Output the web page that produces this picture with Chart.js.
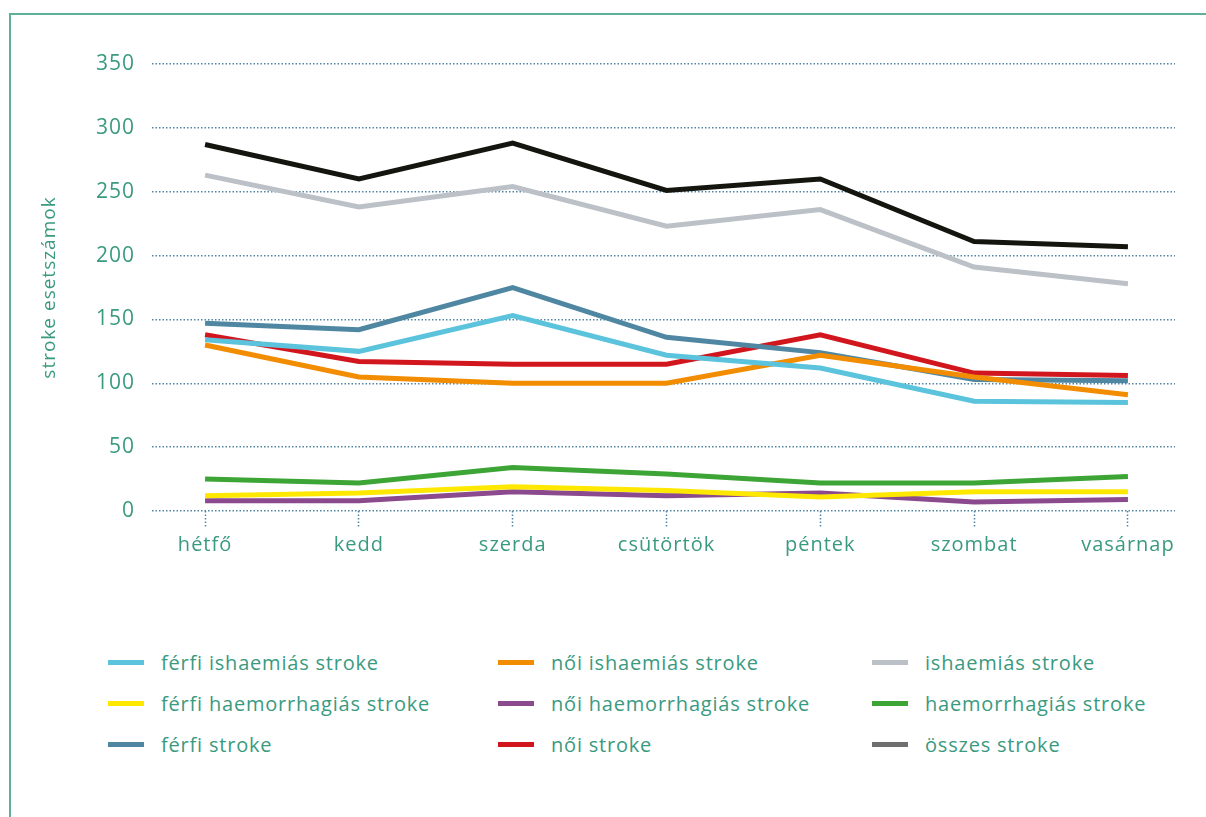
<!DOCTYPE html>
<html>
<head>
<meta charset="utf-8">
<script src="https://cdn.jsdelivr.net/npm/chart.js@4/dist/chart.umd.min.js"></script>
<style>
	html, body { margin: 0; padding: 0; background: #fff; }
	#frame {
		position: absolute; left: 9px; top: 13px; width: 1197px; height: 804px;
		border-left: 2px solid #5fb09a; border-top: 2px solid #5fb09a;
	}
	#wrap { position: absolute; left: 0; top: 0; width: 1206px; height: 560px; }
	#legend {
		position: absolute; left: 108px; top: 648px;
		display: grid; grid-template-columns: 390px 374px 300px; row-gap: 13px;
		font-family: 'Open Sans', 'Noto Sans', sans-serif; font-size: 20px;
		letter-spacing: 0.8px; color: #3a9a80;
	}
	.item { display: flex; align-items: center; height: 28px; white-space: nowrap; }
	.swatch { width: 36px; height: 5px; margin-right: 17px; }
</style>
</head>
<body>
<div id="frame"></div>
<div id="wrap"><canvas id="chart"></canvas></div>
<div id="legend"></div>
<script>
	// Days of the week.
	const days = ['hétfő', 'kedd', 'szerda', 'csütörtök', 'péntek', 'szombat', 'vasárnap'];
	const yTicks = [0, 50, 100, 150, 200, 250, 300, 350];

	// Series values.
	const ferfiIsch = [134, 125, 153, 122, 112, 86, 85];
	const noiIsch = [130, 105, 100, 100, 122, 105, 91];
	const isch = [263, 238, 254, 223, 236, 191, 178];
	const ferfiHaem = [12, 14, 19, 16, 11, 15, 15];
	const noiHaem = [8, 8, 15, 12, 14, 7, 9];
	const haem = [25, 22, 34, 29, 22, 22, 27];
	const ferfiStroke = [147, 142, 175, 136, 124, 103, 102];
	const noiStroke = [138, 117, 115, 115, 138, 108, 106];
	const osszes = [287, 260, 288, 251, 260, 211, 207];

	const teal = '#3a9a80';
	const gridColor = '#4f85a3';
	const font = "'Open Sans', 'Noto Sans', sans-serif";

	function series(label, values, color, legendColor) {
		return {
			label: label,
			data: values.map(function(v, i) { return { x: i, y: v }; }),
			borderColor: color,
			backgroundColor: color,
			legendColor: legendColor || color,
			borderWidth: 5,
			pointRadius: 0,
			tension: 0,
			fill: false,
		};
	}

	const datasets = [
		series('férfi ishaemiás stroke', ferfiIsch, '#5bc3dc'),
		series('női ishaemiás stroke', noiIsch, '#f28c00'),
		series('ishaemiás stroke', isch, '#bcc1c8'),
		series('férfi haemorrhagiás stroke', ferfiHaem, '#ffe800'),
		series('női haemorrhagiás stroke', noiHaem, '#8c4a8e'),
		series('haemorrhagiás stroke', haem, '#3da535'),
		series('férfi stroke', ferfiStroke, '#4f87a2'),
		series('női stroke', noiStroke, '#d2161e'),
		series('összes stroke', osszes, '#15150f', '#6f6f6f'),
	];

	// Wider letter spacing for canvas text, like the original typeface.
	const spacing = {
		id: 'spacing',
		beforeUpdate: function(chart) { chart.ctx.letterSpacing = '1px'; },
		beforeDraw: function(chart) { chart.ctx.letterSpacing = '1px'; },
	};

	new Chart(document.getElementById('chart'), {
		type: 'line',
		data: { datasets: datasets },
		plugins: [spacing],
		options: {
			responsive: true,
			maintainAspectRatio: false,
			animation: false,
			layout: { padding: { left: 38, right: 31, top: 64, bottom: 0 } },
			plugins: {
				legend: { display: false },
				tooltip: { enabled: false },
			},
			scales: {
				x: {
					type: 'linear',
					min: -0.345,
					max: 6.306,
					afterBuildTicks: function(s) {
						s.ticks = days.map(function(d, i) { return { value: i }; });
					},
					afterFit: function(s) { s.height = 49; },
					border: { display: false },
					grid: {
						drawOnChartArea: false,
						drawTicks: true,
						tickLength: 17,
						tickColor: gridColor,
						tickWidth: 1.5,
						tickBorderDash: [1.5, 2],
					},
					ticks: {
						color: teal,
						padding: 5,
						font: { family: font, size: 20 },
						callback: function(v) { return days[v]; },
					}
				},
				y: {
					min: 0,
					max: 350,
					afterBuildTicks: function(s) {
						s.ticks = yTicks.map(function(v) { return { value: v }; });
					},
					afterFit: function(s) { s.width = 114; },
					border: { display: false, dash: [1.5, 2] },
					title: {
						display: true,
						text: 'stroke esetszámok',
						color: teal,
						padding: 0,
						font: { family: font, size: 19 },
					},
					grid: {
						color: gridColor,
						lineWidth: 1.5,
						drawTicks: false,
					},
					ticks: {
						color: teal,
						padding: 17,
						font: { family: font, size: 21 },
					}
				}
			}
		}
	});

	// Legend as a three-column grid.
	const legend = document.getElementById('legend');
	datasets.forEach(function(ds) {
		const item = document.createElement('div');
		item.className = 'item';
		const sw = document.createElement('span');
		sw.className = 'swatch';
		sw.style.background = ds.legendColor;
		const txt = document.createElement('span');
		txt.textContent = ds.label;
		item.appendChild(sw);
		item.appendChild(txt);
		legend.appendChild(item);
	});
</script>
</body>
</html>
